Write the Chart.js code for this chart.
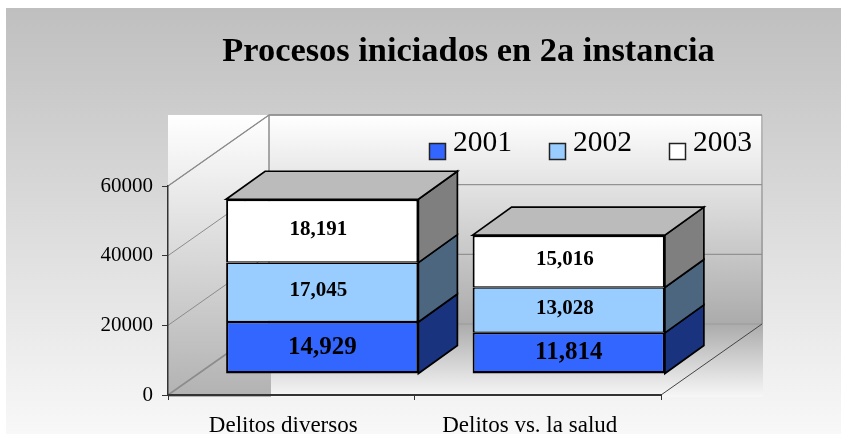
<!DOCTYPE html>
<html>
<head>
<meta charset="utf-8">
<style>html,body{margin:0;padding:0;background:#fff}canvas{display:block}</style>
<script src="https://cdn.jsdelivr.net/npm/chart.js@4"></script>
</head>
<body>
<canvas id="c" width="841" height="434"></canvas>
<script>
const titleText = "Procesos iniciados en 2a instancia";
const categories = ["Delitos diversos", "Delitos vs. la salud"];
const seriesNames = ["2001", "2002", "2003"];
const values2001 = [14929, 11814];
const values2002 = [17045, 13028];
const values2003 = [18191, 15016];
const yTicks = [0, 20000, 40000, 60000];
const faceColors = ["#3366FF", "#99CCFF", "#FFFFFF"];
const sideColors = ["#1A337F", "#4D667F", "#7F7F7F"];
const topColor = "#BBBBBB";

const SERIF = "'Liberation Serif', serif";
const WALL = {dx: 101, dy: -71};
const BAR_SHIFT = {dx: 31, dy: -21};
const BAR_DEPTH = {dx: 39, dy: -28};
const BAR_BORDERS = [
  {top: 1.3, bottom: 2.4, left: 2, right: 2},
  {top: 1.3, bottom: 1.3, left: 2, right: 2},
  {top: 2, bottom: 1.3, left: 2, right: 2}
];

function poly(ctx, pts, fill, stroke, lw) {
  ctx.beginPath();
  pts.forEach((p, i) => i ? ctx.lineTo(p[0], p[1]) : ctx.moveTo(p[0], p[1]));
  ctx.closePath();
  if (fill) { ctx.fillStyle = fill; ctx.fill(); }
  if (stroke) { ctx.strokeStyle = stroke; ctx.lineWidth = lw; ctx.lineJoin = "miter"; ctx.stroke(); }
}
function line(ctx, x1, y1, x2, y2, c, w) {
  ctx.beginPath(); ctx.moveTo(x1, y1); ctx.lineTo(x2, y2);
  ctx.strokeStyle = c; ctx.lineWidth = w; ctx.stroke();
}
function grad(ctx, y0, y1, c0, c1) {
  const g = ctx.createLinearGradient(0, y0, 0, y1);
  g.addColorStop(0, c0); g.addColorStop(1, c1);
  return g;
}

const scene3d = {
  id: "scene3d",
  beforeDraw(chart) {
    const ctx = chart.ctx, W = chart.width, H = chart.height;
    const xs = chart.scales.x, ys = chart.scales.y;
    const L = xs.left, R = xs.right, B = ys.getPixelForValue(0), T = ys.getPixelForValue(60000);
    const bx = L + WALL.dx, by = B + WALL.dy, tb = T + WALL.dy, rb = R + WALL.dx;
    ctx.save();
    // page panel
    ctx.fillStyle = grad(ctx, 8, H, "#BFBFBF", "#F8F8F8");
    ctx.fillRect(6, 8, W - 6, H - 8);
    // side strip, back wall and floor gradients
    ctx.fillStyle = grad(ctx, tb, B + 2, "#FFFFFF", "#B2B2B2");
    ctx.fillRect(L, tb, bx - L + 2, B + 2 - tb);
    ctx.fillStyle = grad(ctx, tb, by, "#FFFFFF", "#ABABAB");
    ctx.fillRect(bx, tb, rb - bx + 1, by - tb);
    ctx.fillStyle = grad(ctx, by, B + 2, "#ABABAB", "#F7F7F7");
    ctx.fillRect(bx + 2, by, rb - bx - 1, B + 2 - by);
    // gridlines on the walls
    yTicks.forEach(v => {
      const y = ys.getPixelForValue(v);
      const zero = v === 0;
      line(ctx, L, y, L + WALL.dx, y + WALL.dy, "#8C8C8C", zero ? 1.6 : 1);
      line(ctx, bx, y + WALL.dy, rb, y + WALL.dy, zero ? "#A0A0A0" : "#929292", zero ? 1.6 : 1.2);
    });
    // wall outline
    line(ctx, L, T, bx, tb, "#8C8C8C", 1.2);
    line(ctx, bx, tb, rb, tb, "#8C8C8C", 1.5);
    line(ctx, bx, tb, bx, by, "#8C8C8C", 1.5);
    line(ctx, rb, tb, rb, by, "#8C8C8C", 1.2);
    line(ctx, R, B, rb, by, "#444444", 1);
    ctx.restore();
  },
  beforeDatasetsDraw(chart) {
    const ctx = chart.ctx;
    ctx.save();
    ctx.translate(BAR_SHIFT.dx, BAR_SHIFT.dy);
    chart.data.datasets.forEach((ds, di) => {
      chart.getDatasetMeta(di).data.forEach(el => {
        const p = el.getProps(["x", "y", "base", "width"], true);
        const r = p.x + p.width / 2, l = p.x - p.width / 2;
        const d = BAR_DEPTH;
        poly(ctx, [[r, p.y], [r + d.dx, p.y + d.dy], [r + d.dx, p.base + d.dy], [r, p.base]], sideColors[di], "#000", 1.7);
        if (di === chart.data.datasets.length - 1) {
          poly(ctx, [[l, p.y], [l + d.dx, p.y + d.dy], [r + d.dx, p.y + d.dy], [r, p.y]], topColor, "#000", 1.7);
        }
      });
    });
  },
  afterDatasetsDraw(chart) {
    const ctx = chart.ctx;
    // value labels (still in the shifted frame)
    ctx.textAlign = "center";
    ctx.textBaseline = "middle";
    ctx.fillStyle = "#000";
    chart.data.datasets.forEach((ds, di) => {
      chart.getDatasetMeta(di).data.forEach((el, i) => {
        const p = el.getProps(["x", "y", "base"], true);
        const big = di === 0;
        ctx.font = "bold " + (big ? 25 : 21) + "px " + SERIF;
        ctx.fillText(ds.data[i].toLocaleString("en-US"), p.x + (big ? 0 : -4), (p.y + p.base) / 2 - (big ? 0.5 : 1.5));
      });
    });
    ctx.restore();

    // title
    ctx.save();
    ctx.fillStyle = "#000";
    ctx.font = "bold 34.4px " + SERIF;
    ctx.textAlign = "center";
    ctx.textBaseline = "alphabetic";
    ctx.fillText(titleText, 468.5, 61);

    // legend
    const legendX = [429, 549, 669];
    chart.data.datasets.forEach((ds, di) => {
      const x = legendX[di];
      ctx.fillStyle = ds.backgroundColor;
      ctx.strokeStyle = "#222";
      ctx.lineWidth = 1.5;
      ctx.fillRect(x + .5, 143.5, 16, 16);
      ctx.strokeRect(x + .5, 143.5, 16, 16);
      ctx.fillStyle = "#000";
      ctx.font = "29.5px " + SERIF;
      ctx.textAlign = "left";
      ctx.fillText(ds.label, x + 24, 150.5);
    });
    ctx.restore();
  }
};

new Chart(document.getElementById("c"), {
  type: "bar",
  data: {
    labels: categories,
    datasets: [values2001, values2002, values2003].map((d, i) => ({
      label: seriesNames[i],
      data: d,
      backgroundColor: faceColors[i],
      borderColor: "#000",
      borderWidth: BAR_BORDERS[i],
      borderSkipped: false,
      barPercentage: 0.78,
      categoryPercentage: 1,
      clip: false
    }))
  },
  options: {
    responsive: false,
    animation: false,
    layout: {padding: {left: 100, top: 186, right: 180, bottom: 0}},
    plugins: {legend: {display: false}, title: {display: false}, tooltip: {enabled: false}},
    scales: {
      x: {
        stacked: true,
        afterFit(s) { s.height = 39; },
        grid: {drawOnChartArea: false, drawTicks: true, tickLength: 5, color: "#333"},
        border: {color: "#333", width: 2},
        ticks: {color: "#000", font: {family: SERIF, size: 23}, labelOffset: -8, padding: 12, maxRotation: 0}
      },
      y: {
        stacked: true,
        min: 0,
        max: 60000,
        afterFit(s) { s.width = 68; },
        afterBuildTicks(s) { s.ticks = yTicks.map(v => ({value: v})); },
        grid: {drawOnChartArea: false, drawTicks: true, tickLength: 6, color: "#333"},
        border: {color: "#333", width: 1.5},
        ticks: {color: "#000", font: {family: SERIF, size: 21}, padding: 9, callback: v => String(v)}
      }
    }
  },
  plugins: [scene3d]
});
</script>
</body>
</html>
